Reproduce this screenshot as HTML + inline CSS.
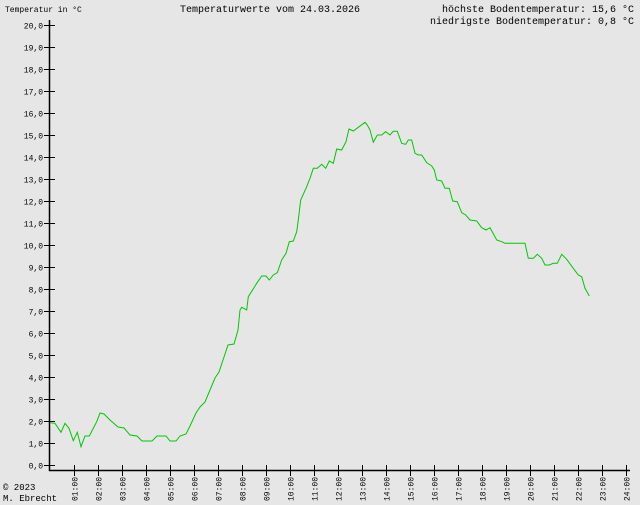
<!DOCTYPE html>
<html><head><meta charset="utf-8"><style>
html,body{margin:0;padding:0;background:#e6e6e6;}
svg{display:block;}
text{font-family:"Liberation Mono",monospace;fill:#000;}
</style></head><body>
<svg width="640" height="505" viewBox="0 0 640 505" xmlns="http://www.w3.org/2000/svg">
<rect width="640" height="505" fill="#e6e6e6"/>
<text x="5" y="12" font-size="8">Temperatur in °C</text>
<text x="270" y="12" font-size="10" text-anchor="middle">Temperaturwerte vom 24.03.2026</text>
<text x="634" y="12" font-size="10" text-anchor="end">höchste Bodentemperatur: 15,6 °C</text>
<text x="634" y="24" font-size="10" text-anchor="end">niedrigste Bodentemperatur: 0,8 °C</text>
<text x="3" y="490" font-size="9">© 2023</text>
<text x="3" y="501" font-size="9">M. Ebrecht</text>
<g stroke="#000" stroke-width="1.5" fill="none">
<line x1="49.5" y1="20" x2="49.5" y2="471"/>
<line x1="49" y1="470.5" x2="630" y2="470.5"/>
</g>
<g id="yt" stroke="#000" stroke-width="1"></g>
<g id="yl" font-size="8" text-anchor="end"></g>
<g id="xt" stroke="#000" stroke-width="1"></g>
<g id="xl" font-size="8"></g>
<polyline fill="none" stroke="#00c800" stroke-width="1" points="50,422.7 55,423.3 61,432.3 65,423.3 69,428.3 73.3,440.7 77.3,432.3 81,446.7 85,436 89.3,436 96.7,421.7 100,413 104,414 110,420 118,427 124,428 130,435 137,436 142,441 152,441 157,436 166,436 170,441 176,441 180,436 186,434 190,426 196,413 200,407 205,402 210,390 215,378 219,372 223,360 228,345 234,344 238,330 240,310 241.7,307.3 246.7,310 248.3,296.7 256.7,283.3 261.7,276 266,276 269.3,280 273.3,275 277.3,272.7 281.7,260 286,253.3 289.3,241.7 293.3,241 296.7,231.7 298.3,220 300.7,200 306,188.3 310,178.3 313.3,168.3 317.3,168.3 321.7,164.3 325.7,168.3 329.3,161 333.3,163.3 336.7,149 341.7,150 346,141.7 349,129 353.3,131 358.3,127.3 365,122.3 367.3,125 370,130 373.3,142.3 377.3,135 381.7,135 385.7,131.7 390,135 393.3,131.3 397.3,131.3 401.7,143.3 405.7,144.3 408.3,140 411.7,140 415,153.3 418.3,155 421.7,155 426.7,162.7 431.7,166 434.3,170 436.7,180 441.7,181 445,188.3 449.3,188.3 452.7,201 457.3,201.7 461.7,212.7 465.7,215 470,220 476.7,221 481.7,227.7 486,230 490,227.7 496.7,240 501.7,241.7 505,243.3 525,243.3 528.3,258.3 533.3,258.3 537.3,254.3 541.7,258.3 545,265 549.3,265 553.3,263.3 557.3,263.3 561.7,254.3 566.7,259.3 573.3,268.3 578.3,275 581.7,276.7 585,288.3 589.3,296"/>
</svg>
<script>
var ns="http://www.w3.org/2000/svg";
function el(p,n,a,t){var e=document.createElementNS(ns,n);for(var k in a)e.setAttribute(k,a[k]);if(t)e.textContent=t;document.getElementById(p).appendChild(e);}
for(var i=0;i<=20;i++){var y=465-22*i+0.5;el("yt","line",{x1:44,y1:y,x2:55,y2:y});el("yl","text",{x:43,y:y+3},i+",0");}
for(var h=1;h<=24;h++){var x=50+24*h+0.5;el("xt","line",{x1:x,y1:465,x2:x,y2:476});var s=(h<10?"0":"")+h+":00";el("xl","text",{x:0,y:0,transform:"translate("+(x+3)+",501) rotate(-90)"},s);}
</script>
</body></html>
